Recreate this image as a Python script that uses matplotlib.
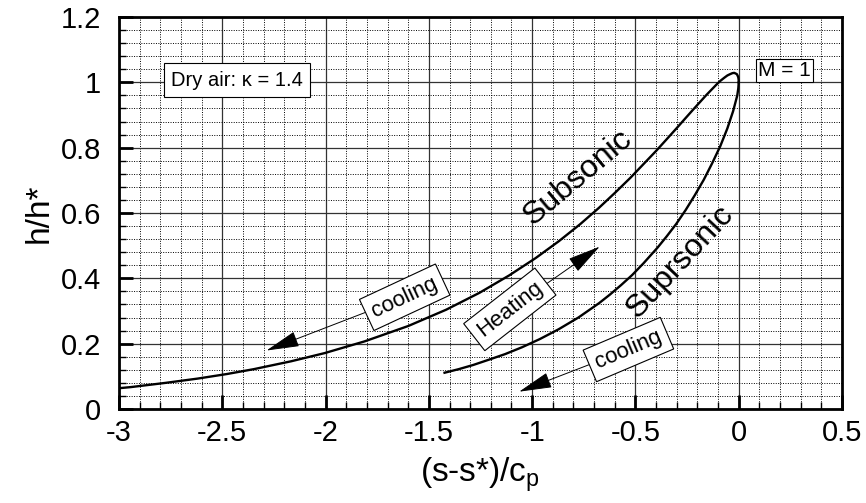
import matplotlib
matplotlib.use("Agg")
import matplotlib.pyplot as plt
from matplotlib.ticker import MultipleLocator

plt.rcParams['font.family'] = ['Liberation Sans', 'DejaVu Sans']
plt.rcParams['mathtext.fontset'] = 'custom'
plt.rcParams['mathtext.rm'] = 'Liberation Sans'
plt.rcParams['mathtext.it'] = 'Liberation Sans:italic'

# Rayleigh line, dry air
sub_s = [-3.128, -2.943, -2.774, -2.620, -2.478, -2.347, -2.167, -2.005, -1.811, -1.600,
         -1.416, -1.254, -1.111, -0.983, -0.870, -0.769, -0.678, -0.597, -0.524, -0.459,
         -0.400, -0.347, -0.300, -0.258, -0.220, -0.187, -0.157, -0.131, -0.108, -0.088,
         -0.070, -0.055, -0.042, -0.031, -0.022, -0.015, -0.009, -0.005, -0.002, -0.0005, 0.0]
sub_h = [0.056, 0.067, 0.080, 0.093, 0.107, 0.122, 0.146, 0.171, 0.207, 0.254,
         0.304, 0.356, 0.409, 0.462, 0.514, 0.565, 0.615, 0.663, 0.708, 0.751,
         0.790, 0.827, 0.860, 0.890, 0.917, 0.940, 0.961, 0.978, 0.993, 1.005,
         1.014, 1.021, 1.025, 1.028, 1.029, 1.027, 1.025, 1.020, 1.015, 1.008, 1.0]

sup_s = [0.0, -0.002, -0.007, -0.027, -0.055, -0.089, -0.128, -0.169, -0.213, -0.257,
         -0.302, -0.348, -0.393, -0.461, -0.516, -0.570, -0.624, -0.676, -0.776, -0.872,
         -0.963, -1.049, -1.131, -1.209, -1.284, -1.355, -1.424]
sup_h = [1.0, 0.982, 0.960, 0.912, 0.859, 0.805, 0.753, 0.702, 0.654, 0.609,
         0.567, 0.529, 0.494, 0.446, 0.410, 0.379, 0.350, 0.324, 0.280, 0.244,
         0.214, 0.189, 0.168, 0.151, 0.135, 0.122, 0.111]


def arrow_label(ax, text, xy, xytext, rot):
    ax.annotate(text, xy=xy, xytext=xytext, fontsize=16, rotation=rot,
                ha='center', va='center', rotation_mode='anchor',
                bbox=dict(boxstyle='square,pad=0.3', fc='white', ec='black', lw=0.8),
                arrowprops=dict(arrowstyle='-|>,head_length=2.1,head_width=0.5',
                                mutation_scale=10, lw=0.7, fc='black', ec='black',
                                shrinkA=0, shrinkB=0))


fig = plt.figure(figsize=(8.66, 5.03), dpi=100)
ax = fig.add_axes([0.1374, 0.1869, 0.8349, 0.7793])

ax.plot(sub_s, sub_h, color='black', lw=1.7, solid_joinstyle='round')
ax.plot(sup_s, sup_h, color='black', lw=1.7, solid_joinstyle='round')

ax.set_xlim(-3, 0.5)
ax.set_ylim(0, 1.2)
ax.xaxis.set_minor_locator(MultipleLocator(0.1))
ax.yaxis.set_minor_locator(MultipleLocator(0.04))
ax.set_xticks([-3, -2.5, -2, -1.5, -1, -0.5, 0, 0.5])
ax.set_xticklabels(['-3', '-2.5', '-2', '-1.5', '-1', '-0.5', '0', '0.5'])
ax.set_yticks([0, 0.2, 0.4, 0.6, 0.8, 1.0, 1.2])
ax.set_yticklabels(['0', '0.2', '0.4', '0.6', '0.8', '1', '1.2'])

ax.grid(which='major', color='#333333', lw=0.9, ls='-')
ax.grid(which='minor', color='black', lw=0.7, ls=(0, (1, 1.5)))
ax.set_axisbelow(True)

ax.tick_params(which='major', direction='in', length=10, width=2, labelsize=21)
ax.tick_params(which='minor', direction='in', length=5, width=1)
ax.tick_params(axis='x', which='major', pad=7)
ax.tick_params(axis='y', which='major', pad=13)
for sp in ax.spines.values():
    sp.set_linewidth(2)

ax.set_xlabel(r'(s-s*)/c$_\mathrm{p}$', fontsize=24, labelpad=6)
ax.set_ylabel('h/h*', fontsize=24, labelpad=4)

ax.text(-2.43, 1.007, 'Dry air: \u03ba = 1.4', fontsize=14.5, ha='center', va='center',
        bbox=dict(boxstyle='square,pad=0.35', fc='white', ec='black', lw=0.8))
ax.text(0.22, 1.037, 'M = 1', fontsize=15, ha='center', va='center',
        bbox=dict(boxstyle='square,pad=0.1', fc='white', ec='black', lw=0.8))

ax.text(-0.78, 0.709, 'Subsonic', fontsize=23, rotation=40, ha='center', va='center',
        rotation_mode='anchor')
ax.text(-0.286, 0.45, 'Suprsonic', fontsize=23, rotation=47, ha='center', va='center',
        rotation_mode='anchor')

arrow_label(ax, 'cooling', (-2.286, 0.179), (-1.617, 0.342), 25)
arrow_label(ax, 'Heating', (-0.673, 0.497), (-1.108, 0.305), 38)
arrow_label(ax, 'cooling', (-1.063, 0.053), (-0.534, 0.182), 23)

fig.savefig('out.png', dpi=100)
